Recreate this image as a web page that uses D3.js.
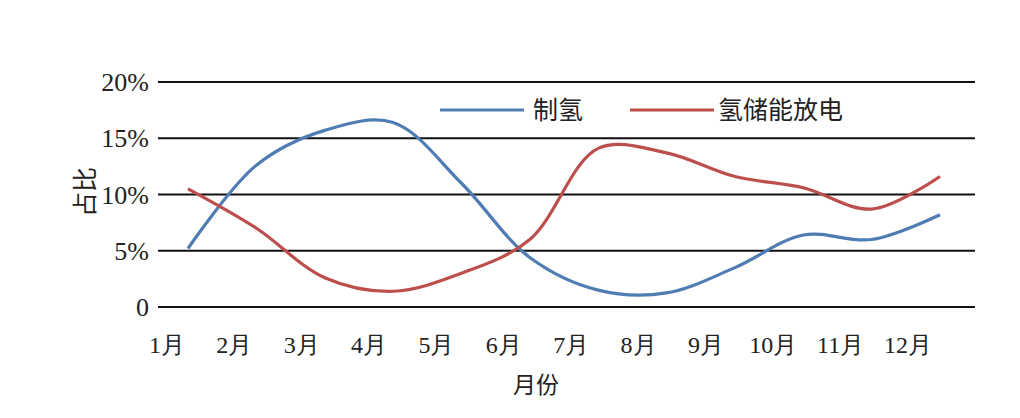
<!DOCTYPE html>
<html>
<head>
<meta charset="utf-8">
<script src="https://cdn.jsdelivr.net/npm/d3@7"></script>
<style>
  body { margin: 0; background: #fff; }
</style>
</head>
<body>
<script>
// chart data
const months = ["1月", "2月", "3月", "4月", "5月", "6月", "7月", "8月", "9月", "10月", "11月", "12月"];
const hydrogenMaking = [5.2, 12.6, 15.7, 16.4, 11.0, 4.4, 1.5, 1.25, 3.5, 6.4, 6.0, 8.2];
const storageDischarge = [10.5, 7.0, 2.6, 1.4, 3.0, 6.0, 14.1, 13.7, 11.6, 10.6, 8.7, 11.6];
const yTicks = [0, 5, 10, 15, 20];
const seriesNames = ["制氢", "氢储能放电"];

const serif = "'Liberation Serif', 'Times New Roman', serif";
const cjk = "'Noto Sans CJK SC', sans-serif";

const svg = d3.select("body").append("svg")
  .attr("width", 1020)
  .attr("height", 418);

// scales
const y = d3.scaleLinear().domain([0, 20]).range([307, 82]);
const xData = d3.scalePoint().domain(months).range([188, 940]);
const xLabel = d3.scalePoint().domain(months).range([167, 908]);

// grid lines
svg.append("g").selectAll("line")
  .data(yTicks)
  .enter()
  .append("line")
    .attr("x1", 158)
    .attr("x2", 975)
    .attr("y1", d => y(d))
    .attr("y2", d => y(d))
    .attr("stroke", "#111")
    .attr("stroke-width", 1.8);

// y tick labels
svg.append("g").selectAll("text")
  .data(yTicks)
  .enter()
  .append("text")
    .attr("x", 149)
    .attr("y", d => y(d) + 9)
    .attr("text-anchor", "end")
    .style("font-family", serif)
    .style("font-size", "26px")
    .style("fill", "#222")
    .text(d => d === 0 ? "0" : d + "%");

// x tick labels
svg.append("g").selectAll("text")
  .data(months)
  .enter()
  .append("text")
    .attr("x", d => xLabel(d))
    .attr("y", 353)
    .attr("text-anchor", "middle")
    .style("font-family", serif)
    .style("font-size", "24px")
    .style("fill", "#222")
    .text(d => d);

// axis titles
svg.append("text")
  .attr("transform", "translate(94, 192) rotate(-90)")
  .attr("text-anchor", "middle")
  .style("font-family", cjk)
  .style("font-size", "25px")
  .style("fill", "#222")
  .text("占比");

svg.append("text")
  .attr("x", 536)
  .attr("y", 393)
  .attr("text-anchor", "middle")
  .style("font-family", cjk)
  .style("font-size", "23px")
  .style("fill", "#222")
  .text("月份");

// lines
const line = d3.line()
  .x((d, i) => xData(months[i]))
  .y(d => y(d))
  .curve(d3.curveCatmullRom.alpha(0.5));

const colors = ["#4f7db3", "#bc4e4b"];
[hydrogenMaking, storageDischarge].forEach((s, i) => {
  svg.append("path")
    .datum(s)
    .attr("d", line)
    .attr("fill", "none")
    .attr("stroke", colors[i])
    .attr("stroke-width", 3.2);
});

// legend
const legendX = [440, 630];
seriesNames.forEach((name, i) => {
  svg.append("line")
    .attr("x1", legendX[i])
    .attr("x2", legendX[i] + 84)
    .attr("y1", 110)
    .attr("y2", 110)
    .attr("stroke", colors[i])
    .attr("stroke-width", 3.2);
  svg.append("text")
    .attr("x", legendX[i] + (i === 0 ? 93 : 88))
    .attr("y", 119)
    .style("font-family", cjk)
    .style("font-size", "25px")
    .style("fill", "#222")
    .text(name);
});
</script>
</body>
</html>
